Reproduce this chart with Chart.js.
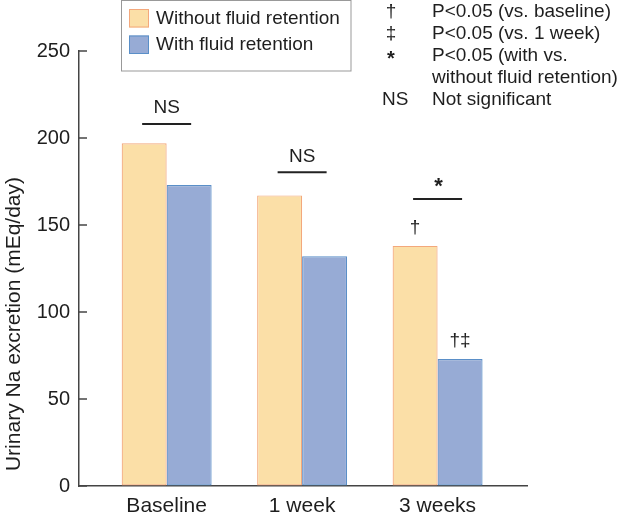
<!DOCTYPE html>
<html>
<head>
<meta charset="utf-8">
<script src="https://cdn.jsdelivr.net/npm/chart.js@4/dist/chart.umd.min.js"></script>
<style>
  html, body { margin: 0; padding: 0; background: #fff; }
  #wrap { width: 620px; height: 515px; }
</style>
</head>
<body>
<div id="wrap"><canvas id="chart-1" width="620" height="515"></canvas></div>
<script>
const categories = ["Baseline", "1 week", "3 weeks"];
const seriesNames = ["Without fluid retention", "With fluid retention"];
const withoutRetention = [197, 167, 138];
const withRetention = [173, 132, 73];
const yTicks = [0, 50, 100, 150, 200, 250];
const yTitle = "Urinary Na excretion (mEq/day)";

// significance bars above each group
const sigLabels = ["NS", "NS", "*"];
const sigLineY = [208, 180.3, 165];
// marks above individual bars
const marksWithout = ["", "", "†"];
const marksWith = ["", "", "†‡"];

const keyRows = [
  ["†", "P<0.05 (vs. baseline)"],
  ["‡", "P<0.05 (vs. 1 week)"],
  ["*", "P<0.05 (with vs."],
  ["", "without fluid retention)"],
];

const FONT = "'Liberation Sans', Arial, Helvetica, sans-serif";
const TEXT = "#1e1e1e";
const fills = ["#fbdfa7", "#97abd5"];
const borders = ["#f3a87c", "#5a8fc8"];

const toPoints = (vals) => vals.map((v, i) => ({ x: i, y: v }));

const annotations = {
  id: "annotations",
  afterDraw(chart) {
    const ctx = chart.ctx;
    const xs = chart.scales.x;
    const ys = chart.scales.y;
    const area = chart.chartArea;
    ctx.save();

    // y title
    ctx.save();
    ctx.translate(14, 324);
    ctx.rotate(-Math.PI / 2);
    ctx.fillStyle = TEXT;
    ctx.font = "21px " + FONT;
    ctx.textAlign = "center";
    ctx.textBaseline = "middle";
    ctx.fillText(yTitle, 0, 0);
    ctx.restore();

    // inward y ticks
    ctx.strokeStyle = "#444";
    ctx.lineWidth = 1.5;
    yTicks.forEach((t) => {
      const y = ys.getPixelForValue(t);
      ctx.beginPath();
      ctx.moveTo(area.left, y);
      ctx.lineTo(area.left + 8, y);
      ctx.stroke();
    });

    // significance lines + labels
    ctx.fillStyle = TEXT;
    ctx.textAlign = "center";
    ctx.textBaseline = "middle";
    sigLabels.forEach((lab, i) => {
      const cx = xs.getPixelForValue(i);
      const y = ys.getPixelForValue(sigLineY[i]);
      ctx.strokeStyle = "#222";
      ctx.lineWidth = 2;
      ctx.beginPath();
      ctx.moveTo(cx - 24.5, y);
      ctx.lineTo(cx + 24.5, y);
      ctx.stroke();
      if (lab === "*") {
        ctx.font = "bold 22px " + FONT;
        ctx.fillText(lab, cx + 1, y - 12);
      } else {
        ctx.font = "19px " + FONT;
        ctx.fillText(lab, cx, y - 16);
      }
    });

    // marks above bars
    ctx.font = "19px " + FONT;
    [marksWithout, marksWith].forEach((marks, d) => {
      const meta = chart.getDatasetMeta(d);
      marks.forEach((m, i) => {
        if (!m) return;
        const bar = meta.data[i];
        ctx.fillText(m, bar.x, bar.y - 18);
      });
    });

    // legend box
    ctx.strokeStyle = "#999";
    ctx.lineWidth = 1;
    ctx.strokeRect(121.5, 0.5, 229.5, 70.5);
    seriesNames.forEach((name, d) => {
      const y0 = d === 0 ? 9 : 35.5;
      ctx.fillStyle = fills[d];
      ctx.fillRect(129, y0, 20, 18.5);
      ctx.strokeStyle = borders[d];
      ctx.lineWidth = 1;
      ctx.strokeRect(129.5, y0 + 0.5, 19, 17.5);
      ctx.fillStyle = TEXT;
      ctx.textAlign = "left";
      ctx.textBaseline = "middle";
      ctx.font = "19px " + FONT;
      ctx.fillText(name, 156, y0 + 9.5);
    });

    // key on the right
    ctx.fillStyle = TEXT;
    ctx.font = "19px " + FONT;
    keyRows.forEach((row, r) => {
      const y = 12 + r * 22;
      ctx.textAlign = "center";
      if (row[0] === "*") {
        ctx.font = "bold 20px " + FONT;
        ctx.fillText(row[0], 391, y + 3);
        ctx.font = "19px " + FONT;
      } else if (row[0]) {
        ctx.fillText(row[0], 391, y);
      }
      ctx.textAlign = "left";
      ctx.fillText(row[1], 432, y);
    });
    ctx.fillText("NS", 382, 12 + 4 * 22);
    ctx.fillText("Not significant", 432, 12 + 4 * 22);

    ctx.restore();
  },
};

const config = {
  type: "bar",
  data: {
    datasets: [
      {
        label: seriesNames[0],
        data: toPoints(withoutRetention),
        backgroundColor: fills[0],
        borderColor: borders[0],
        borderWidth: 1.2,
        borderSkipped: false,
      },
      {
        label: seriesNames[1],
        data: toPoints(withRetention),
        backgroundColor: fills[1],
        borderColor: borders[1],
        borderWidth: 1.2,
        borderSkipped: false,
      },
    ],
  },
  options: {
    responsive: false,
    animation: false,
    categoryPercentage: 0.664,
    barPercentage: 1.0,
    layout: { padding: { top: 51, right: 93, bottom: 0, left: 0 } },
    scales: {
      x: {
        type: "linear",
        offset: false,
        min: -0.647,
        max: 2.66,
        afterBuildTicks: (scale) => {
          scale.ticks = categories.map((c, i) => ({ value: i }));
        },
        afterFit: (scale) => {
          scale.height = 29;
        },
        ticks: {
          callback: (value) => categories[value] ?? "",
          color: TEXT,
          font: { family: FONT, size: 21 },
          padding: 8,
          maxRotation: 0,
          autoSkip: false,
        },
        grid: { display: true, drawOnChartArea: false, drawTicks: false },
        border: { display: true, color: "#444", width: 1.5 },
      },
      y: {
        min: 0,
        max: 250,
        afterBuildTicks: (scale) => {
          scale.ticks = yTicks.map((v) => ({ value: v }));
        },
        afterFit: (scale) => {
          scale.width = 79;
        },
        ticks: {
          color: TEXT,
          font: { family: FONT, size: 20 },
          padding: 9,
        },
        grid: { display: true, drawOnChartArea: false, drawTicks: false },
        border: { display: true, color: "#444", width: 1.5 },
      },
    },
    plugins: {
      legend: { display: false },
      tooltip: { enabled: false },
    },
  },
  plugins: [annotations],
};

const chart1 = new Chart(document.getElementById("chart-1"), config);
</script>
</body>
</html>
